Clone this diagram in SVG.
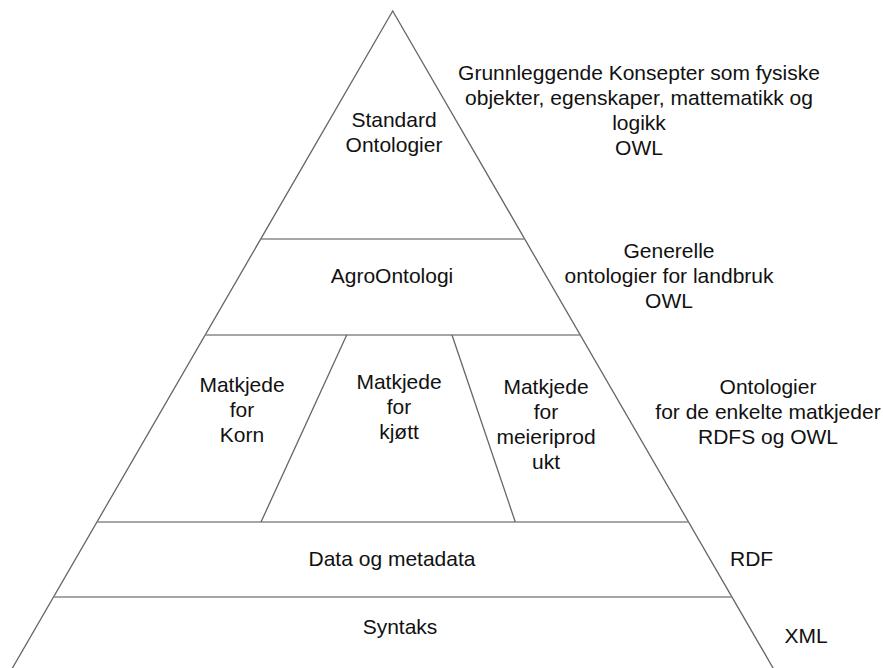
<svg xmlns="http://www.w3.org/2000/svg" width="883" height="668" viewBox="0 0 883 668">
  <style>
    .edge { fill: none; stroke: #666; stroke-width: 1.3; }
    .rule { fill: none; stroke: #888; stroke-width: 1.6; }
    text { font-family: "Liberation Sans", Arial, sans-serif; font-size: 21px; fill: #111; text-anchor: middle; }
    .left { text-anchor: start; }
  </style>
  <rect width="883" height="668" fill="#fff"/>

  <!-- pyramid outline and layer dividers -->
  <g id="outline">
    <polyline class="edge" points="5.5,680 392.7,11 780,680"/>
    <line class="rule" x1="260.7" y1="239" x2="524.7" y2="239"/>
    <line class="rule" x1="205.2" y1="335" x2="580.2" y2="335"/>
    <line class="rule" x1="96.9" y1="522" x2="688.5" y2="522"/>
    <line class="rule" x1="53.5" y1="597" x2="731.9" y2="597"/>
    <line class="edge" x1="346.7" y1="335" x2="261" y2="522"/>
    <line class="edge" x1="452" y1="335" x2="515.3" y2="522"/>
  </g>

  <!-- layers -->
  <g id="standard-ontologier">
    <text x="394" y="127">Standard</text>
    <text x="394" y="152">Ontologier</text>
  </g>
  <g id="agroontologi">
    <text x="392" y="283">AgroOntologi</text>
  </g>
  <g id="matkjede-korn">
    <text x="242" y="392">Matkjede</text>
    <text x="242" y="417">for</text>
    <text x="242" y="442">Korn</text>
  </g>
  <g id="matkjede-kjott">
    <text x="399" y="389">Matkjede</text>
    <text x="399" y="414">for</text>
    <text x="399" y="439">kjøtt</text>
  </g>
  <g id="matkjede-meieri">
    <text x="546" y="394">Matkjede</text>
    <text x="546" y="419">for</text>
    <text x="546" y="444">meieriprod</text>
    <text x="546" y="469">ukt</text>
  </g>
  <g id="data-metadata">
    <text x="392" y="566">Data og metadata</text>
  </g>
  <g id="syntaks">
    <text x="400" y="634">Syntaks</text>
  </g>

  <!-- side annotations -->
  <g id="note-standard">
    <text x="639" y="80">Grunnleggende Konsepter som fysiske</text>
    <text x="639" y="105">objekter, egenskaper, mattematikk og</text>
    <text x="639" y="130">logikk</text>
    <text x="639" y="155">OWL</text>
  </g>
  <g id="note-agro">
    <text x="669" y="258">Generelle</text>
    <text x="669" y="283">ontologier for landbruk</text>
    <text x="669" y="308">OWL</text>
  </g>
  <g id="note-matkjeder">
    <text x="768" y="394">Ontologier</text>
    <text x="768" y="419">for de enkelte matkjeder</text>
    <text x="768" y="444">RDFS og OWL</text>
  </g>
  <g id="note-rdf">
    <text class="left" x="730" y="566">RDF</text>
  </g>
  <g id="note-xml">
    <text x="806" y="643">XML</text>
  </g>
</svg>
